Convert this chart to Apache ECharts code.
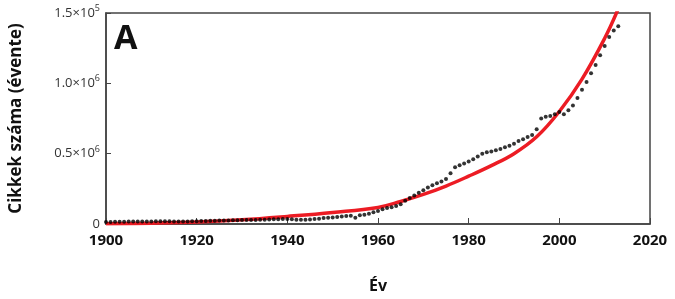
<!DOCTYPE html>
<html>
<head>
<meta charset="utf-8">
<script src="https://cdn.jsdelivr.net/npm/echarts@6/dist/echarts.min.js"></script>
<style>
  html, body { margin: 0; padding: 0; background: #fff; }
  #main { width: 675px; height: 299px; }
</style>
</head>
<body>
<div id="main"></div>
<script>
// évek és cikkszámok (ezer cikk / év)
var years = [];
for (var y = 1900; y <= 2013; y++) years.push(y);
var counts = [
  15, 15, 16, 16, 16, 17, 17, 17, 18, 18,
  18, 19, 19, 20, 19, 17, 17, 17, 17, 19,
  20, 21, 22, 23, 23, 24, 25, 25, 26, 27,
  28, 28, 29, 29, 30, 31, 32, 33, 34, 35,
  36, 33, 31, 30, 30, 32, 35, 38, 42, 45,
  47, 50, 53, 56, 58, 45, 62, 66, 72, 84,
  92, 105, 114, 119, 128, 140, 166, 184, 203, 222,
  240, 259, 275, 290, 303, 320, 360, 404, 418, 430,
  444, 460, 480, 500, 510, 515, 524, 533, 545, 556,
  570, 590, 603, 619, 633, 673, 750, 762, 767, 780,
  797, 780, 808, 843, 895, 955, 1010, 1072, 1130, 1200,
  1265, 1330, 1375, 1405
];
// illesztett görbe (piros) pontjai
var fitYears = [1900, 1910, 1920, 1930, 1940, 1950, 1960, 1965, 1970, 1975, 1980, 1985, 1990, 1995, 2000, 2005, 2010, 2013];
var fitValues = [2, 6, 14, 30, 54, 82, 118, 160, 210, 270, 340, 415, 500, 620, 800, 1030, 1320, 1530];
var xTicks = [1900, 1920, 1940, 1960, 1980, 2000, 2020];
var yTickLabels = {
  0: '{b|0}',
  500000: '{b|0.5×10}{s|6}',
  1000000: '{b|1.0×10}{s|6}',
  1500000: '{b|1.5×10}{s|5}'
};

var dots = years.map(function (yr, i) { return [yr, counts[i] * 1000]; });
var fit = fitYears.map(function (yr, i) { return [yr, fitValues[i] * 1000]; });

var myChart = echarts.init(document.getElementById('main'));
var option = {
  animation: false,
  grid: {
    left: 103, right: 25, top: 13, bottom: 72,
    show: true, borderColor: '#444', borderWidth: 1.5
  },
  graphic: [{
    type: 'text', left: 114, top: 22,
    style: { text: 'A', fontSize: 34, fontWeight: 'bold', fontFamily: 'Open Sans', fill: '#111' }
  }],
  xAxis: {
    type: 'value', min: xTicks[0], max: xTicks[xTicks.length - 1], interval: 20,
    name: 'Év', nameLocation: 'middle', nameGap: 54,
    nameTextStyle: { fontSize: 16, fontWeight: 'bold', color: '#111', fontFamily: 'Open Sans' },
    axisLine: { lineStyle: { color: '#444', width: 1.5 } },
    axisTick: { inside: true, length: 6, lineStyle: { color: '#444' } },
    axisLabel: {
      fontSize: 15, fontWeight: 'bold', color: '#111', fontFamily: 'Open Sans', margin: 9,
      formatter: function (v) { return String(v); }
    },
    splitLine: { show: false }
  },
  yAxis: {
    type: 'value', min: 0, max: 1500000, interval: 500000,
    name: 'Cikkek száma (évente)', nameLocation: 'middle', nameGap: 81,
    nameTextStyle: { fontSize: 17, fontWeight: 'bold', color: '#111', fontFamily: 'Open Sans' },
    axisLine: { lineStyle: { color: '#444', width: 1.5 } },
    axisTick: { inside: true, length: 5, lineStyle: { color: '#444' } },
    axisLabel: {
      margin: 6,
      formatter: function (v) { return yTickLabels[v] || ''; },
      rich: {
        b: { fontSize: 13, color: '#333', fontFamily: 'Open Sans' },
        s: { fontSize: 9, color: '#333', fontFamily: 'Open Sans', padding: [0, 0, 9, 0] }
      }
    },
    splitLine: { show: false }
  },
  series: [{
    name: 'fit', type: 'line', data: fit, smooth: 0.4, symbol: 'none', z: 2,
    lineStyle: { color: '#ec1c24', width: 3.5 }
  }, {
    name: 'cikkek', type: 'scatter', data: dots, symbolSize: 4, z: 3,
    itemStyle: { color: '#000' }
  }]
};
myChart.setOption(option);
</script>
</body>
</html>
